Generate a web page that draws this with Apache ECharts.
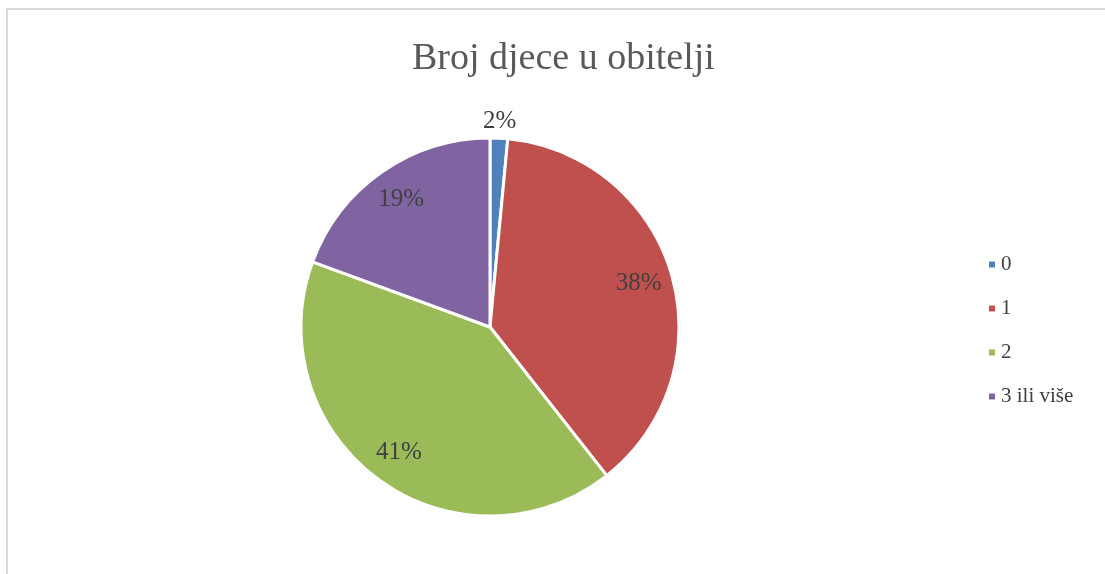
<!DOCTYPE html>
<html>
<head>
<meta charset="utf-8">
<script src="https://cdn.jsdelivr.net/npm/echarts@6/dist/echarts.min.js"></script>
<style>
  html, body { margin: 0; padding: 0; background: #fff; }
  #frame { position: absolute; left: 6px; top: 8px; width: 1099px; height: 566px;
           border-left: 2px solid #d9d9d9; border-top: 2px solid #d9d9d9; }
  #chart { position: absolute; left: 0; top: 0; width: 1105px; height: 574px; }
</style>
</head>
<body>
<div id="frame"></div>
<div id="chart"></div>
<script>
// Broj djece u obitelji
var categories = ['0', '1', '2', '3 ili više'];
var values = [1.5, 37.9, 41.2, 19.4];
var colors = ['#4F81BD', '#C0504D', '#9BBB59', '#8064A2'];

var serif = '"Liberation Serif", "DejaVu Serif", serif';

var pieData = categories.map(function (c, i) {
    return {name: c, value: values[i], itemStyle: {color: colors[i]}};
});

function pct(p) {
    return Math.round(p.percent) + '%';
}

// label rings: transparent copies of the pie, used only to place the labels
function labelRing(radius, showIdx) {
    return {
        type: 'pie',
        silent: true,
        center: [490, 327],
        radius: [0, radius],
        startAngle: 90,
        clockwise: true,
        tooltip: {show: false},
        itemStyle: {color: 'rgba(0,0,0,0)', borderWidth: 0},
        emphasis: {disabled: true},
        labelLine: {show: false},
        data: categories.map(function (c, i) {
            return {
                name: c, value: values[i],
                itemStyle: {color: 'rgba(0,0,0,0)'},
                label: {show: showIdx.indexOf(i) >= 0}
            };
        }),
        label: {
            position: 'inside',
            formatter: pct,
            fontFamily: serif,
            fontSize: 25,
            color: '#404040'
        },
        z: 3
    };
}

var option = {
    animation: false,
    title: {
        text: 'Broj djece u obitelji',
        left: 407,
        top: 35,
        textStyle: {
            fontFamily: serif,
            fontSize: 38,
            fontWeight: 'normal',
            color: '#595959'
        }
    },
    legend: {
        orient: 'vertical',
        left: 982,
        top: 249,
        itemWidth: 8,
        itemHeight: 8,
        itemGap: 23,
        icon: 'rect',
        data: categories.map(function (c, i) {
            return {name: c, itemStyle: {color: colors[i]}};
        }),
        textStyle: {
            fontFamily: serif,
            fontSize: 21,
            color: '#404040'
        }
    },
    series: [
        {
            type: 'pie',
            center: [490, 327],
            radius: [0, 189],
            startAngle: 90,
            clockwise: true,
            label: {show: false},
            labelLine: {show: false},
            itemStyle: {borderColor: '#fff', borderWidth: 3},
            data: pieData
        },
        labelRing(304, [1, 2, 3]),
        labelRing(406, [0])
    ]
};

var myChart = echarts.init(document.getElementById('chart'));
myChart.setOption(option);
</script>
</body>
</html>
